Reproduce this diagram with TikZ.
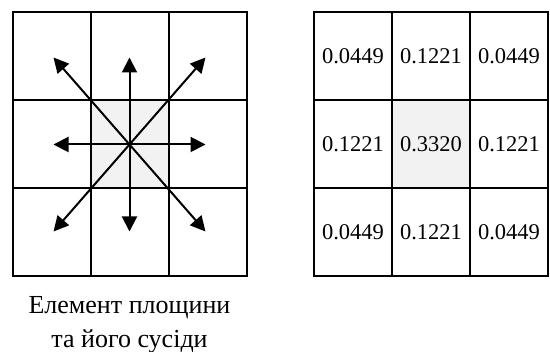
\documentclass[tikz,border=0pt]{standalone}
\usepackage{fontspec}
\setmainfont{Liberation Serif}
\usetikzlibrary{arrows.meta}
\begin{document}
\begin{tikzpicture}[x=1pt,y=-1pt,
  cellbox/.style={draw=black, line width=2pt, minimum width=78pt, minimum height=88pt,
    inner sep=0pt, outer sep=0pt, font=\fontsize{22.5}{27}\selectfont},
  midcell/.style={cellbox, fill=black!5},
  ray/.style={line width=2pt, -{Triangle[length=15pt,width=15pt]}},
  caption/.style={anchor=base, inner sep=0pt, font=\fontsize{26}{30}\selectfont}]
\useasboundingbox (0,0) rectangle (550,352);
% left grid
\node[cellbox] (L00) at (51.5,56.5) {};
\node[cellbox] (L01) at (129.5,56.5) {};
\node[cellbox] (L02) at (207.5,56.5) {};
\node[cellbox] (L10) at (51.5,144.5) {};
\node[midcell] (L11) at (129.5,144.5) {};
\node[cellbox] (L12) at (207.5,144.5) {};
\node[cellbox] (L20) at (51.5,232.5) {};
\node[cellbox] (L21) at (129.5,232.5) {};
\node[cellbox] (L22) at (207.5,232.5) {};
% arrow tips
\coordinate (tN) at (129.5,57.5);
\coordinate (tS) at (129.5,231.5);
\coordinate (tW) at (53.5,144.5);
\coordinate (tE) at (205.5,144.5);
\coordinate (tNW) at (53.5,57.5);
\coordinate (tNE) at (205.5,57.5);
\coordinate (tSW) at (53.5,231.5);
\coordinate (tSE) at (205.5,231.5);
\foreach \t in {tN,tS,tW,tE,tNW,tNE,tSW,tSE}
  \draw[ray] (L11.center) -- (\t);
% right grid
\node[cellbox] (R00) at (353,56.5) {0.0449};
\node[cellbox] (R01) at (431,56.5) {0.1221};
\node[cellbox] (R02) at (509,56.5) {0.0449};
\node[cellbox] (R10) at (353,144.5) {0.1221};
\node[midcell] (R11) at (431,144.5) {0.3320};
\node[cellbox] (R12) at (509,144.5) {0.1221};
\node[cellbox] (R20) at (353,232.5) {0.0449};
\node[cellbox] (R21) at (431,232.5) {0.1221};
\node[cellbox] (R22) at (509,232.5) {0.0449};
% caption
\node[caption] (cap1) at (129.5,313.3) {Елемент площини};
\node[caption] (cap2) at (129.5,347.5) {та його сусіди};
\end{tikzpicture}
\end{document}
